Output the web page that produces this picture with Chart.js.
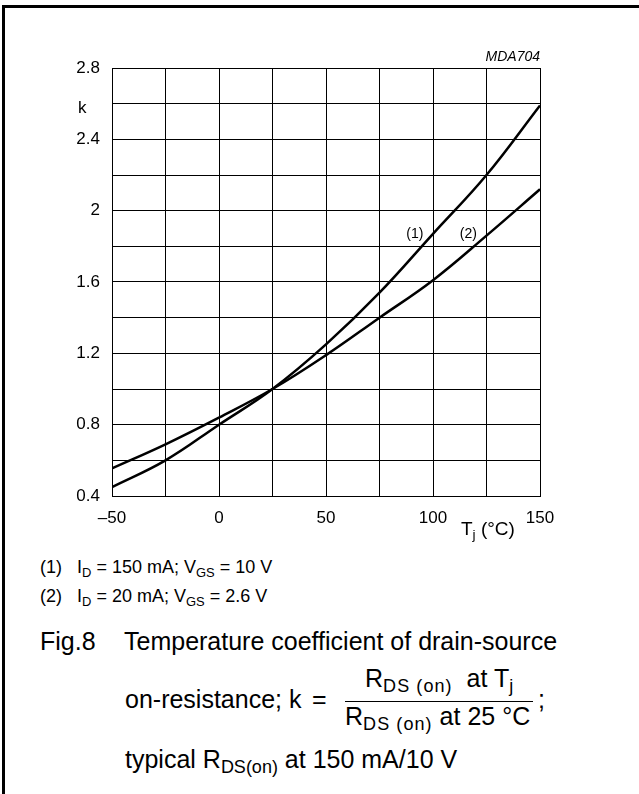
<!DOCTYPE html>
<html>
<head>
<meta charset="utf-8">
<script src="https://cdn.jsdelivr.net/npm/chart.js@4"></script>
<style>
  html, body { margin: 0; padding: 0; background: #fff; }
  body { width: 639px; height: 794px; position: relative; overflow: hidden;
         font-family: "Liberation Sans", Arial, sans-serif; color: #000; }
  #frameTop { position: absolute; left: 2px; top: 5px; width: 637px; height: 3px; background: #000; }
  #frameLeft { position: absolute; left: 2px; top: 5px; width: 3px; height: 789px; background: #000; }
  #chartBox { position: absolute; left: 0; top: 40px; width: 600px; height: 500px; }
  .t { position: absolute; white-space: nowrap; line-height: 1; }
  sub { font-size: 72%; vertical-align: -0.3em; line-height: 0; }
  .fr sub { letter-spacing: 0.06em; }
</style>
</head>
<body>
<div id="frameTop"></div>
<div id="frameLeft"></div>
<div id="chartBox"><canvas id="kChart"></canvas></div>

<div class="t" style="left:78px; top:99px; font-size:17px;">k</div>
<div class="t" style="right:99px; top:49px; font-size:14px; font-style:italic;">MDA704</div>
<div class="t" style="left:461px; top:519px; font-size:19px;">T<sub>j</sub> (°C)</div>

<div class="t" style="left:40px; top:558px; font-size:18px;">(1)&nbsp;&nbsp; I<sub>D</sub> = 150 mA; V<sub>GS</sub> = 10 V</div>
<div class="t" style="left:40px; top:587px; font-size:18px;">(2)&nbsp;&nbsp; I<sub>D</sub> = 20 mA; V<sub>GS</sub> = 2.6 V</div>

<div class="t" style="left:40px; top:629px; font-size:25px;">Fig.8</div>
<div class="t" style="left:124px; top:629px; font-size:25px;">Temperature coefficient of drain-source</div>
<div class="t" style="left:125px; top:687px; font-size:25px;">on-resistance; k</div>
<div class="t" style="left:312px; top:687px; font-size:25px;">=</div>
<div class="t fr" style="left:365px; top:666px; font-size:25px;">R<sub>DS (on)</sub>&nbsp; at T<sub>j</sub></div>
<div style="position:absolute; left:345px; top:701px; width:188px; height:1px; background:#000;"></div>
<div class="t fr" style="left:345px; top:704px; font-size:25px;">R<sub>DS (on)</sub> at 25 °C</div>
<div class="t" style="left:538px; top:687px; font-size:25px;">;</div>
<div class="t" style="left:125px; top:747px; font-size:25px;">typical R<sub>DS(on)</sub> at 150 mA/10 V</div>

<script>
// 温度 (°C)
const temps = [-50, -25, 0, 25, 50, 75, 100, 125, 150];
// (1) ID = 150 mA; VGS = 10 V
const k1 = [0.45, 0.60, 0.80, 1.00, 1.25, 1.54, 1.87, 2.20, 2.59];
// (2) ID = 20 mA; VGS = 2.6 V
const k2 = [0.555, 0.69, 0.84, 1.00, 1.19, 1.40, 1.61, 1.86, 2.12];
// 曲線ラベルの位置
const curveLabels = ['(1)', '(2)'];
const labelT = [91.5, 116.5];
const labelK = [1.87, 1.87];

const font = '"Liberation Sans", Arial, sans-serif';

const curveLabelPlugin = {
    id: 'curveLabels',
    afterDatasetsDraw(chart) {
        const ctx = chart.ctx;
        const xs = chart.scales.x, ys = chart.scales.y;
        ctx.save();
        ctx.font = '14px ' + font;
        ctx.fillStyle = '#000';
        ctx.textAlign = 'center';
        ctx.textBaseline = 'middle';
        for (let i = 0; i < curveLabels.length; i++) {
            ctx.fillText(curveLabels[i], xs.getPixelForValue(labelT[i]), ys.getPixelForValue(labelK[i]));
        }
        ctx.restore();
    }
};

const toPoints = (ys) => temps.map((t, i) => ({ x: t, y: ys[i] }));

new Chart(document.getElementById('kChart'), {
    type: 'line',
    data: {
        datasets: [
            { data: toPoints(k1), borderColor: '#000', borderWidth: 2.5, pointRadius: 0, tension: 0.4, fill: false },
            { data: toPoints(k2), borderColor: '#000', borderWidth: 2.5, pointRadius: 0, tension: 0.4, fill: false }
        ]
    },
    options: {
        responsive: true,
        maintainAspectRatio: false,
        animation: false,
        layout: { padding: { left: 0, top: 28, right: 60, bottom: 4 } },
        plugins: { legend: { display: false }, tooltip: { enabled: false } },
        scales: {
            x: {
                type: 'linear', min: -50, max: 150,
                afterFit: (s) => { s.height = 40; },
                grid: { color: '#000', lineWidth: 1, drawTicks: false },
                border: { color: '#000', width: 1 },
                ticks: {
                    stepSize: 25, autoSkip: false, maxRotation: 0, padding: 12,
                    color: '#000', font: { family: font, size: 17 },
                    callback: (v) => (v % 50 === 0 ? String(v).replace('-', '\u2013') : '')
                }
            },
            y: {
                min: 0.4, max: 2.8,
                afterFit: (s) => { s.width = 112; },
                grid: { color: '#000', lineWidth: 1, drawTicks: false },
                border: { color: '#000', width: 1 },
                ticks: {
                    stepSize: 0.2, autoSkip: false, padding: 12,
                    color: '#000', font: { family: font, size: 17 },
                    callback: (v) => {
                        const r = Math.round(v * 10);
                        return r % 4 === 0 ? String(r / 10) : '';
                    }
                }
            }
        }
    },
    plugins: [curveLabelPlugin]
});
</script>
</body>
</html>
